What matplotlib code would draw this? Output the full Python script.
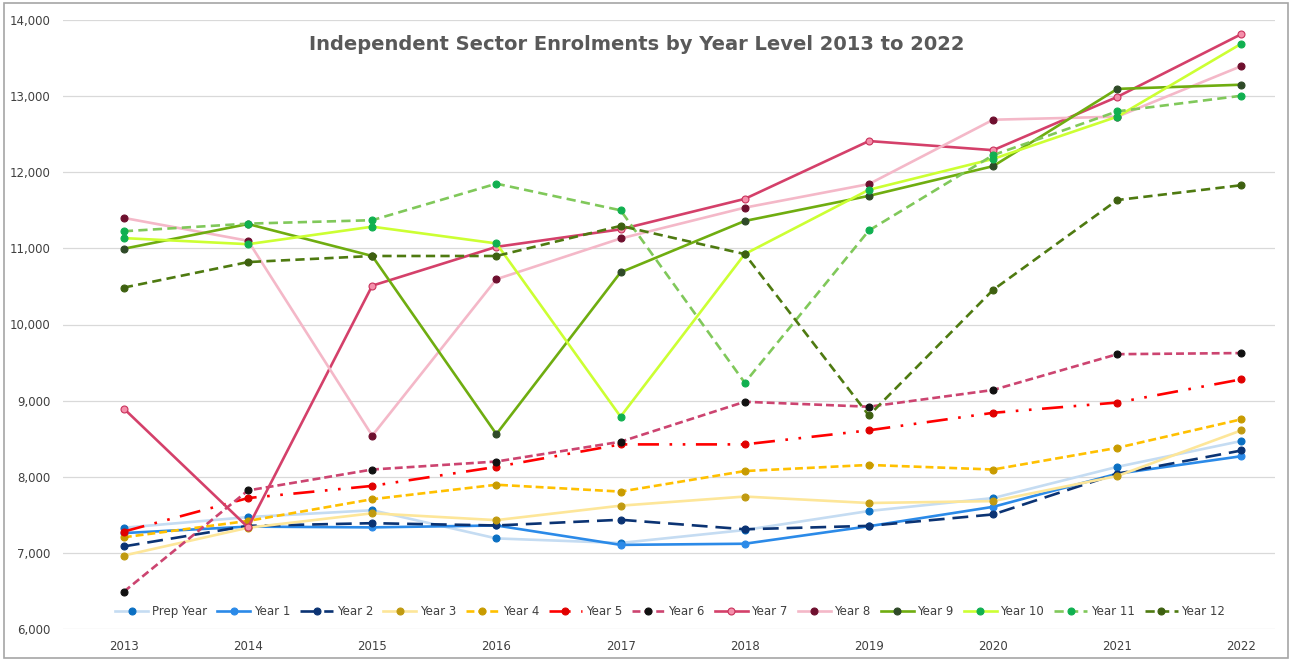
import matplotlib.pyplot as plt
from matplotlib.ticker import FuncFormatter

years = [2013, 2014, 2015, 2016, 2017, 2018, 2019, 2020, 2021, 2022]

prep_year = [7330, 7470, 7560, 7190, 7130, 7300, 7550, 7720, 8130, 8470]
year_1 = [7260, 7345, 7335, 7360, 7105, 7120, 7350, 7605, 8040, 8270]
year_2 = [7085, 7355, 7390, 7360, 7435, 7310, 7355, 7505, 8040, 8345]
year_3 = [6965, 7330, 7520, 7430, 7620, 7740, 7655, 7680, 8010, 8610]
year_4 = [7205, 7420, 7705, 7895, 7805, 8075, 8155, 8095, 8380, 8755]
year_5 = [7280, 7720, 7880, 8130, 8425, 8425, 8610, 8840, 8975, 9280]
year_6 = [6490, 7820, 8095, 8200, 8460, 8985, 8920, 9140, 9610, 9625]
year_7 = [8895, 7335, 10510, 11020, 11250, 11650, 12410, 12290, 12990, 13815]
year_8 = [11400, 11100, 8540, 10595, 11130, 11535, 11845, 12690, 12730, 13395]
year_9 = [10995, 11320, 10900, 8560, 10685, 11360, 11690, 12080, 13095, 13150]
year_10 = [11135, 11055, 11285, 11065, 8790, 10925, 11770, 12175, 12730, 13690]
year_11 = [11225, 11325, 11370, 11850, 11500, 9235, 11235, 12225, 12800, 13005]
year_12 = [10485, 10820, 10900, 10900, 11295, 10925, 8805, 10455, 11635, 11830]

# label, values, line colour, line style, marker face, marker edge
series = [
    ('Prep Year', prep_year, '#c5dcf2', '-', '#0a6fc2', '#0a6fc2'),
    ('Year 1', year_1, '#2b8ae8', '-', '#2b8ae8', '#2b8ae8'),
    ('Year 2', year_2, '#0b3373', (0, (6, 3)), '#0b3373', '#0b3373'),
    ('Year 3', year_3, '#fde699', '-', '#c09a10', '#c09a10'),
    ('Year 4', year_4, '#ffc000', (0, (3, 1.5)), '#c89b00', '#c89b00'),
    ('Year 5', year_5, '#ff0000', (0, (8, 4, 1, 4, 1, 4)), '#e00000', '#e00000'),
    ('Year 6', year_6, '#cc4470', (0, (3, 1.5)), '#111111', '#111111'),
    ('Year 7', year_7, '#d4406a', '-', '#f58fab', '#c9335c'),
    ('Year 8', year_8, '#f4b8c8', '-', '#6e0f2e', '#6e0f2e'),
    ('Year 9', year_9, '#6fad10', '-', '#2f4a28', '#2f4a28'),
    ('Year 10', year_10, '#ccff33', '-', '#10b050', '#10b050'),
    ('Year 11', year_11, '#80c85a', (0, (3.5, 2)), '#10b050', '#10b050'),
    ('Year 12', year_12, '#4e7a10', (0, (3.5, 2)), '#3e6010', '#3e6010'),
]

fig = plt.figure(figsize=(12.92, 6.6), dpi=100)
ax = fig.add_axes([63 / 1292, 31 / 660, (1275 - 63) / 1292, (629 - 20) / 660])

for label, vals, col, ls, mfc, mec in series:
    ax.plot(years, vals, color=col, linestyle=ls, linewidth=1.9,
            marker='o', markersize=5, markerfacecolor=mfc,
            markeredgecolor=mec, markeredgewidth=0.8, label=label)

ax.set_ylim(6000, 14000)
ax.set_xlim(2012.51, 2022.27)
ax.set_yticks(range(6000, 14001, 1000))
ax.set_xticks(years)
ax.yaxis.set_major_formatter(FuncFormatter(lambda v, p: f'{int(v):,}'))
ax.grid(axis='y', color='#d9d9d9', linewidth=0.9)
ax.set_axisbelow(True)
for s in ax.spines.values():
    s.set_visible(False)
ax.tick_params(length=0, labelsize=8.5, colors='#404040', pad=4)
ax.tick_params(axis='y', pad=9)
ax.tick_params(axis='x', pad=8)

fig.text(637 / 1292, 1 - 44 / 660,
         'Independent Sector Enrolments by Year Level 2013 to 2022',
         fontsize=14, fontweight='bold', color='#595959',
         ha='center', va='center')

ax.legend(loc='lower center', bbox_to_anchor=(0.501, 0.0), ncol=13, frameon=False,
          fontsize=8.5, handlelength=2.8, handletextpad=0.3, columnspacing=0.85,
          labelcolor='#404040')

# grey frame round the whole chart
fig.patches.append(plt.Rectangle((4 / 1292, 2 / 660), 1284 / 1292, 655 / 660,
                                 transform=fig.transFigure, fill=False,
                                 edgecolor='#a6a6a6', linewidth=1.2))

fig.savefig('out.png', dpi=100)
